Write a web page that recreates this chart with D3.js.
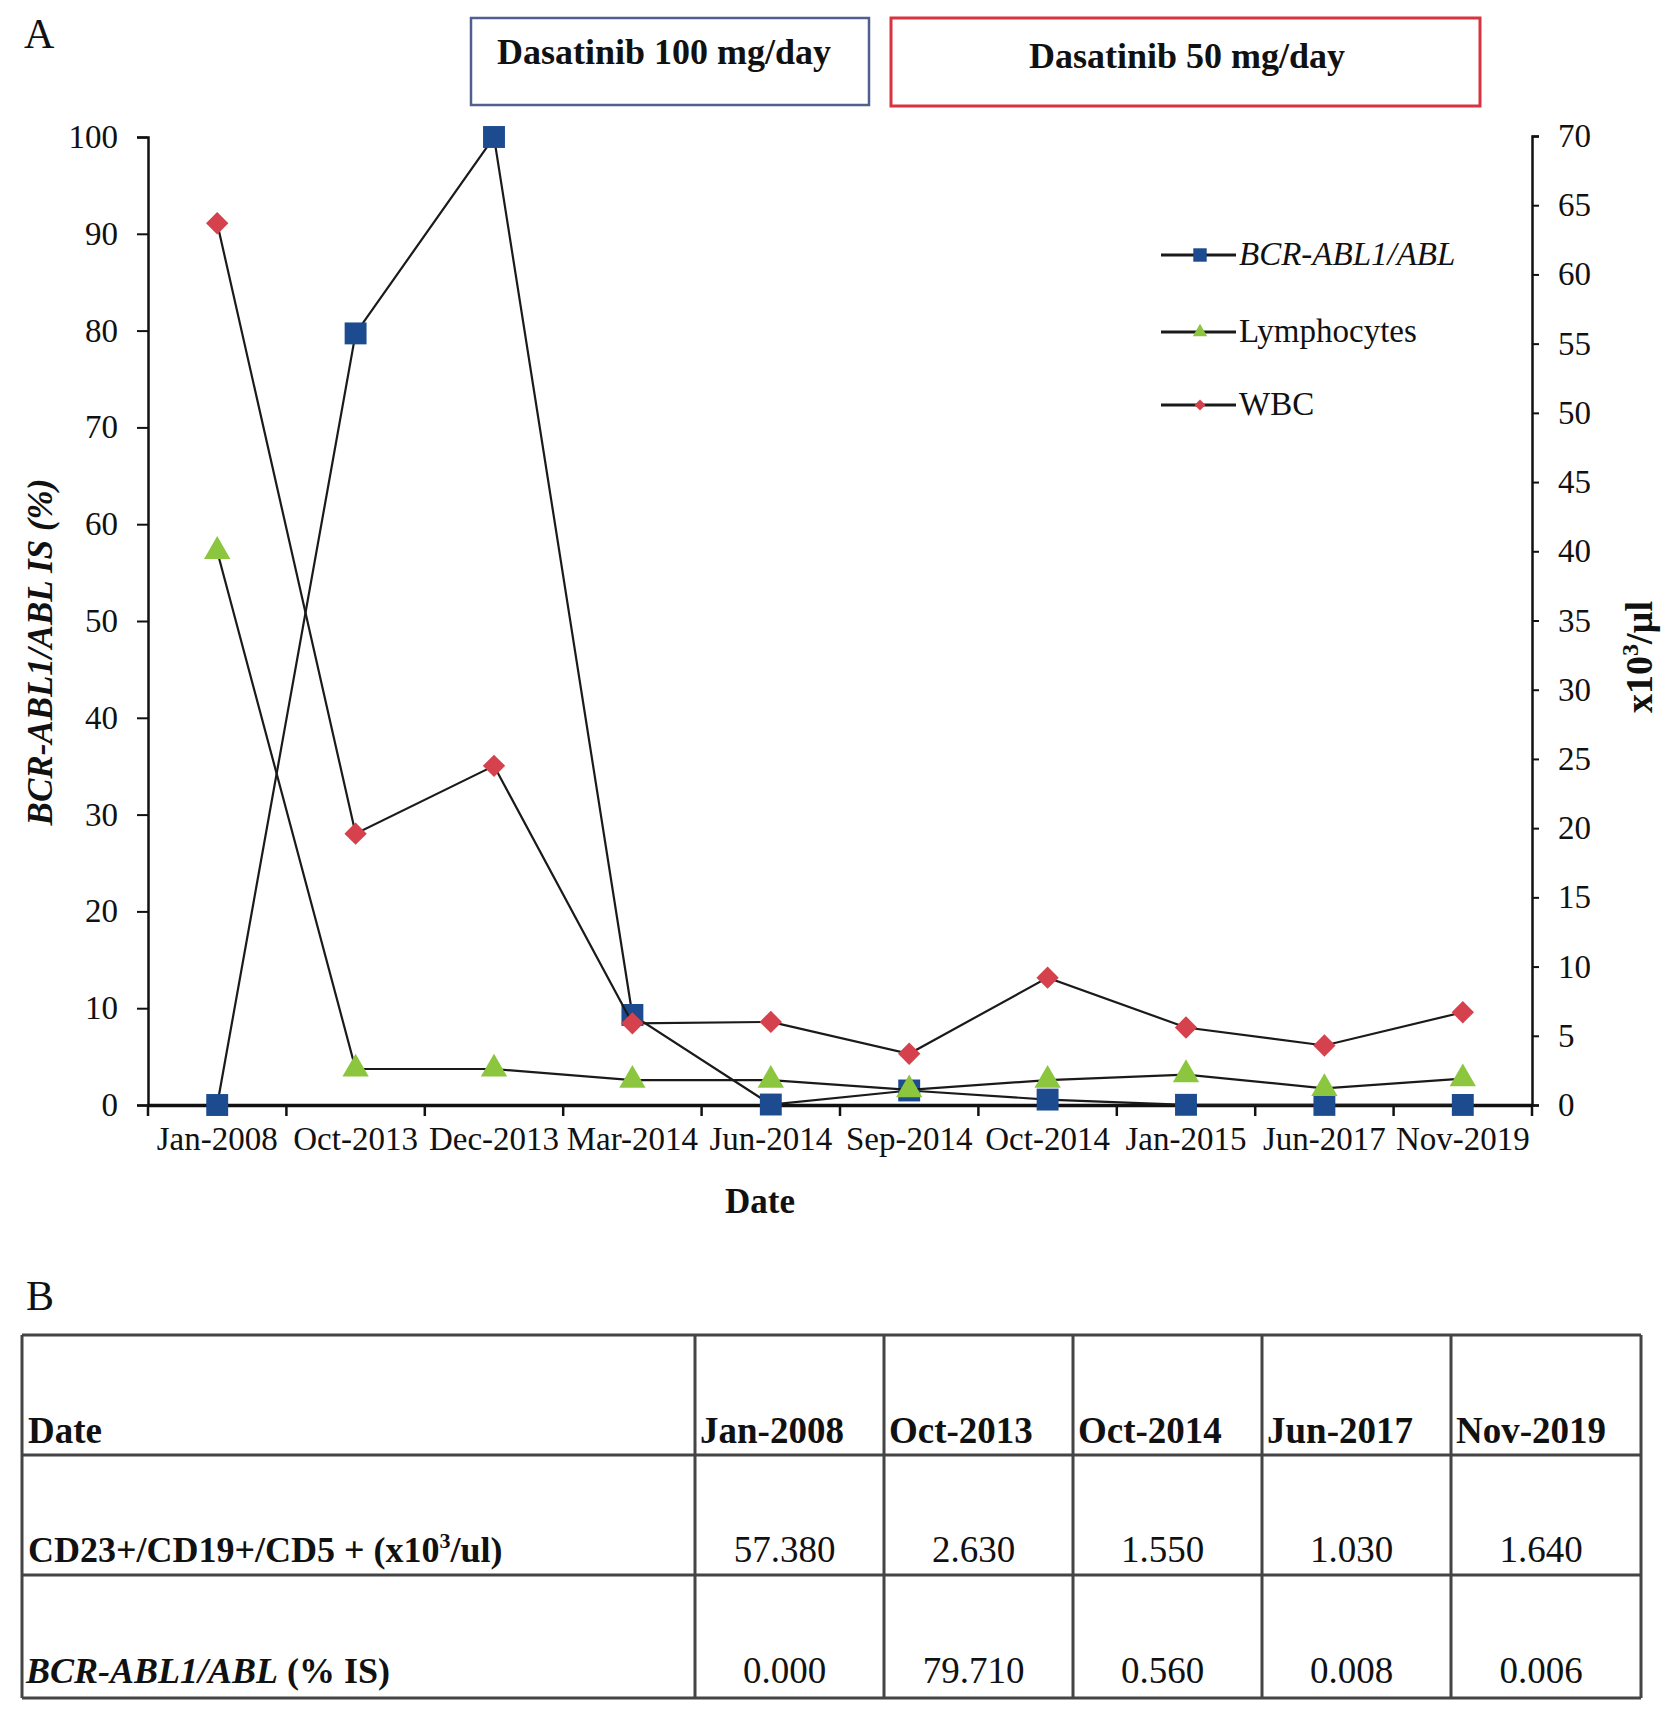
<!DOCTYPE html>
<html><head><meta charset="utf-8">
<script src="https://cdn.jsdelivr.net/npm/d3@7/dist/d3.min.js"></script>
<style>
html,body{margin:0;padding:0;background:#fff;}
svg text{font-family:"Liberation Serif","Times New Roman",serif;fill:#111;}
</style></head>
<body>
<svg id="c" width="1677" height="1717"></svg>
<script>
const categories=["Jan-2008","Oct-2013","Dec-2013","Mar-2014","Jun-2014","Sep-2014","Oct-2014","Jan-2015","Jun-2017","Nov-2019"];
const bcrAbl=[0,79.71,100,9.3,0.05,1.5,0.56,0.02,0.008,0.006];
const lymphocytes=[40.0,2.6,2.6,1.8,1.8,1.1,1.8,2.2,1.2,1.9];
const wbc=[63.7,19.6,24.5,5.9,6.0,3.7,9.2,5.6,4.3,6.7];
const leftTicks=[0,10,20,30,40,50,60,70,80,90,100];
const rightTicks=[0,5,10,15,20,25,30,35,40,45,50,55,60,65,70];
const tableDates=["Jan-2008","Oct-2013","Oct-2014","Jun-2017","Nov-2019"];
const tableCD=["57.380","2.630","1.550","1.030","1.640"];
const tableBCR=["0.000","79.710","0.560","0.008","0.006"];

const svg=d3.select("#c");
const L=148,R=1532,B=1105,T=137;
const x=d3.scaleBand().domain(categories).range([L,R]).padding(0);
const yL=d3.scaleLinear().domain([0,100]).range([B,T]);
const yR=d3.scaleLinear().domain([0,70]).range([B,136]);
const cx=c=>x(c)+x.bandwidth()/2;

// panel labels
svg.append("text").attr("x",24).attr("y",48).attr("font-size",42).text("A");
svg.append("text").attr("x",26).attr("y",1310).attr("font-size",42).text("B");

// dose boxes
svg.append("rect").attr("x",471).attr("y",18).attr("width",398).attr("height",87)
  .attr("fill","none").attr("stroke","#4f5f8f").attr("stroke-width",2.5);
svg.append("text").attr("x",664).attr("y",64).attr("text-anchor","middle").attr("font-size",36).attr("font-weight","bold").text("Dasatinib 100 mg/day");
svg.append("rect").attr("x",891).attr("y",18).attr("width",589).attr("height",88)
  .attr("fill","none").attr("stroke","#d8343f").attr("stroke-width",3);
svg.append("text").attr("x",1187).attr("y",68).attr("text-anchor","middle").attr("font-size",36).attr("font-weight","bold").text("Dasatinib 50 mg/day");

// left axis
const gL=svg.append("g").attr("transform",`translate(${L},0)`)
  .call(d3.axisLeft(yL).tickValues(leftTicks).tickSize(11).tickPadding(19));
gL.select(".domain").attr("stroke","#111").attr("stroke-width",2.5);
gL.selectAll(".tick line").attr("stroke","#111").attr("stroke-width",2);
gL.selectAll(".tick text").attr("font-size",33).attr("font-family","Liberation Serif").attr("fill","#111");

// right axis
const gR=svg.append("g").attr("transform",`translate(${R},0)`)
  .call(d3.axisRight(yR).tickValues(rightTicks).tickSize(7).tickPadding(19));
gR.select(".domain").attr("stroke","#111").attr("stroke-width",2.5);
gR.selectAll(".tick line").attr("stroke","#111").attr("stroke-width",2);
gR.selectAll(".tick text").attr("font-size",33).attr("font-family","Liberation Serif").attr("fill","#111");

// x axis
const gX=svg.append("g").attr("transform",`translate(0,${B})`)
  .call(d3.axisBottom(x).tickSize(0).tickPadding(22));
gX.select(".domain").attr("stroke","#111").attr("stroke-width",3.5);
gX.selectAll(".tick text").attr("font-size",33).attr("font-family","Liberation Serif").attr("fill","#111");
const bounds=categories.map(c=>x(c)).concat([R]);
gX.selectAll(".btick").data(bounds).join("line").attr("class","btick")
  .attr("x1",d=>d).attr("x2",d=>d).attr("y1",0).attr("y2",11).attr("stroke","#111").attr("stroke-width",2.5);

// axis titles
svg.append("text").attr("transform","translate(52,652) rotate(-90)").attr("text-anchor","middle")
  .attr("font-size",35).attr("font-weight","bold").attr("font-style","italic").text("BCR-ABL1/ABL IS (%)");
const rt=svg.append("text").attr("transform","translate(1652,657) rotate(-90)").attr("text-anchor","middle")
  .attr("font-size",38).attr("font-weight","bold");
rt.append("tspan").text("x10");
rt.append("tspan").attr("font-size",24).attr("dy",-14).text("3");
rt.append("tspan").attr("dy",14).text("/µl");
svg.append("text").attr("x",760).attr("y",1213).attr("text-anchor","middle").attr("font-size",35).attr("font-weight","bold").text("Date");

// series
const series=[
  {name:"BCR-ABL1/ABL",vals:bcrAbl,y:yL,shape:"square",color:"#1c4b8f"},
  {name:"Lymphocytes",vals:lymphocytes,y:yR,shape:"triangle",color:"#8cc63f"},
  {name:"WBC",vals:wbc,y:yR,shape:"diamond",color:"#d5414c"}
];
const symMap={square:d3.symbolSquare,triangle:d3.symbolTriangle,diamond:d3.symbolSquare};
const sizeMap={square:480,triangle:300,diamond:250};
const rot=s=>s==="diamond"?" rotate(45)":"";
series.forEach(s=>{
  const pts=categories.map((c,i)=>[cx(c),s.y(s.vals[i])]);
  svg.append("path").attr("d",d3.line()(pts)).attr("fill","none").attr("stroke","#1a1a1a").attr("stroke-width",2.2);
  svg.selectAll(null).data(pts).join("path")
    .attr("transform",d=>`translate(${d[0]},${d[1]})${rot(s.shape)}`)
    .attr("d",d3.symbol().type(symMap[s.shape]).size(sizeMap[s.shape]))
    .attr("fill",s.color);
});

// legend
const lg=[{s:series[0],y:255,italic:true},{s:series[1],y:332},{s:series[2],y:405}];
lg.forEach(l=>{
  svg.append("line").attr("x1",1161).attr("x2",1236).attr("y1",l.y).attr("y2",l.y).attr("stroke","#1a1a1a").attr("stroke-width",3);
  const sz={square:180,triangle:90,diamond:60}[l.s.shape];
  svg.append("path").attr("transform",`translate(1200,${l.y})${rot(l.s.shape)}`).attr("d",d3.symbol().type(symMap[l.s.shape]).size(sz)).attr("fill",l.s.color);
  svg.append("text").attr("x",1239).attr("y",l.y+10).attr("font-size",33).attr("font-style",l.italic?"italic":"normal").text(l.s.name);
});

// table
const colX=[22,695,884,1073,1262,1451,1641];
const rowY=[1335,1455,1575,1698];
const tg=svg.append("g");
rowY.forEach(yv=>tg.append("line").attr("x1",colX[0]).attr("x2",colX[6]).attr("y1",yv).attr("y2",yv).attr("stroke","#444").attr("stroke-width",3));
colX.forEach(xv=>tg.append("line").attr("x1",xv).attr("x2",xv).attr("y1",rowY[0]).attr("y2",rowY[3]).attr("stroke","#444").attr("stroke-width",3));
tg.append("text").attr("x",28).attr("y",1443).attr("font-size",37).attr("font-weight","bold").text("Date");
tableDates.forEach((d,i)=>tg.append("text").attr("x",colX[i+1]+5).attr("y",1443).attr("font-size",37).attr("font-weight","bold").text(d));
const r2=tg.append("text").attr("x",28).attr("y",1562).attr("font-size",36).attr("font-weight","bold");
r2.append("tspan").text("CD23+/CD19+/CD5 + (x10");
r2.append("tspan").attr("font-size",22).attr("dy",-14).text("3");
r2.append("tspan").attr("dy",14).text("/ul)");
const r3=tg.append("text").attr("x",26).attr("y",1683).attr("font-size",36).attr("font-weight","bold");
r3.append("tspan").attr("font-style","italic").text("BCR-ABL1/ABL");
r3.append("tspan").text(" (% IS)");
tableCD.forEach((v,i)=>tg.append("text").attr("x",(colX[i+1]+colX[i+2])/2-5).attr("y",1562).attr("text-anchor","middle").attr("font-size",37).text(v));
tableBCR.forEach((v,i)=>tg.append("text").attr("x",(colX[i+1]+colX[i+2])/2-5).attr("y",1683).attr("text-anchor","middle").attr("font-size",37).text(v));
</script>
</body></html>
